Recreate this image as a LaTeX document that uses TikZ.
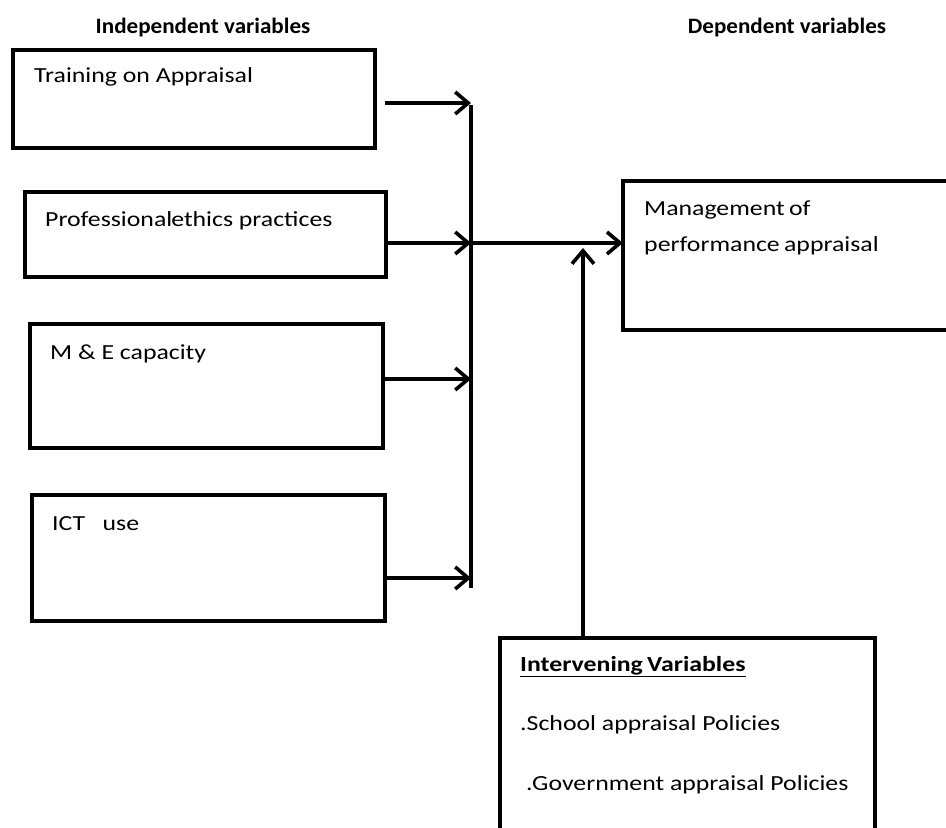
\documentclass[tikz,border=0pt]{standalone}
\usepackage{fontspec}
\setmainfont{Carlito}
\newfontfamily\bodyfont{Carlito}[FakeStretch=1.2]
\newfontfamily\hdrfont{Carlito}[FakeStretch=1.05]
\usetikzlibrary{arrows.meta}
\tikzset{
  box/.style={draw=black, line width=3.6pt, inner sep=0pt},
  txt/.style={anchor=base west, inner sep=0pt, font=\bodyfont\fontsize{21.5}{24}\selectfont},
  hdr/.style={anchor=base, inner sep=0pt, font=\hdrfont\bfseries\fontsize{22}{25}\selectfont},
  conn/.style={line width=3.6pt, line cap=butt},
  arr/.style={conn, -{Straight Barb[length=13pt, width=22pt, line width=3.6pt]}},
}
\begin{document}
\begin{tikzpicture}[x=1pt, y=-1pt]
\useasboundingbox (0,0) rectangle (946,828);
\clip (0,0) rectangle (946,828);
% headers
\node[hdr] (h1) at (203,33) {Independent variables};
\node[hdr] (h2) at (787,33) {Dependent variables};
% boxes
\draw[box] (13,50) rectangle (375,148);
\node (b1) at (194,99) [minimum width=362pt, minimum height=98pt, inner sep=0pt] {};
\draw[box] (25,192) rectangle (386,277);
\node (b2) at (205.5,234.5) [minimum width=361pt, minimum height=85pt, inner sep=0pt] {};
\draw[box] (30,324) rectangle (383,448);
\node (b3) at (206.5,386) [minimum width=353pt, minimum height=124pt, inner sep=0pt] {};
\draw[box] (32,495) rectangle (385,621);
\node (b4) at (208.5,558) [minimum width=353pt, minimum height=126pt, inner sep=0pt] {};
\draw[box] (623,181) rectangle (980,330);
\node (m) at (801.5,255.5) [minimum width=357pt, minimum height=149pt, inner sep=0pt] {};
\draw[box] (500,638) rectangle (875,860);
\node (iv) at (687.5,749) [minimum width=375pt, minimum height=222pt, inner sep=0pt] {};
% texts
\node[txt] (t1) at (34,82) {Training on Appraisal};
\node[txt] (t2) at (45,226) {Professional\kern-1pt ethics practices};
\node[txt] (t3) at (50,359) {M \& E capacity};
\node[txt] (t4) at (52,530) {ICT\ \ \ use};
\node[txt] (t5) at (644,215) {Management\kern-1.5pt\ of};
\node[txt] (t6) at (644,251) {performance\kern-1.5pt\ appraisal};
\node[txt, font=\bodyfont\bfseries\fontsize{21.5}{24}\selectfont] (t7) at (520,671) {\underline{Intervening\kern-1.5pt\ Variables}};
\node[txt] (t8) at (520,730) {.School appraisal Policies};
\node[txt] (t9) at (526,790) {.Government appraisal Policies};
% bus junctions
\coordinate (j1) at (471,103);
\coordinate (j2) at (471,243);
\coordinate (j3) at (471,379);
\coordinate (j4) at (471,578);
\coordinate (jb) at (471,588);
\coordinate (up) at (583,248);
% connectors
\draw[arr] ([xshift=10pt]b1.east |- j1) -- (j1);
\draw[arr] (b2.east |- j2) -- (j2);
\draw[arr] ([xshift=2pt]b3.east |- j3) -- (j3);
\draw[arr] (b4.east |- j4) -- (j4);
\draw[conn] ([yshift=-2pt]j1) -- (jb);
\draw[arr] (j2) -- (m.west |- j2);
\draw[arr] (iv.north -| up) -- (up);
\end{tikzpicture}
\end{document}
